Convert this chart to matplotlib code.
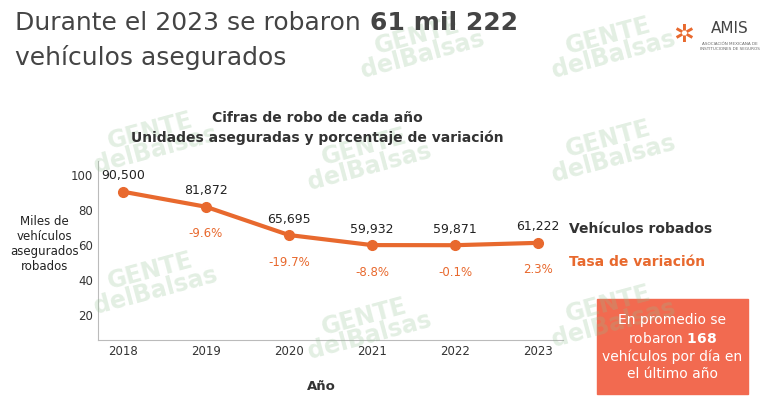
import matplotlib
matplotlib.use("Agg")
import matplotlib.pyplot as plt
from matplotlib.patches import Rectangle

years = [2018, 2019, 2020, 2021, 2022, 2023]
robados = [90.5, 81.872, 65.695, 59.932, 59.871, 61.222]
labels = ["90,500", "81,872", "65,695", "59,932", "59,871", "61,222"]
tasas = ["", "-9.6%", "-19.7%", "-8.8%", "-0.1%", "2.3%"]
yticks = [20, 40, 60, 80, 100]

orange = "#E8692E"
fig = plt.figure(figsize=(7.64, 4.13), dpi=100)
fig.patch.set_facecolor("white")

# watermarks
for (x, y) in [(0.20, 0.66), (0.48, 0.62), (0.80, 0.64), (0.20, 0.32), (0.48, 0.21), (0.80, 0.24), (0.55, 0.89), (0.80, 0.89)]:
    fig.text(x, y, "GENTE\ndelBalsas", color="#8fbf8f", alpha=0.25, fontsize=17,
             fontweight="bold", rotation=15, ha="center", va="center", linespacing=0.8)

ax = fig.add_axes([0.128, 0.177, 0.609, 0.433])
ax.plot(years, robados, color=orange, lw=3, marker="o", ms=7, zorder=3)
ax.set_xlim(2017.7, 2023.3)
ax.set_ylim(5.7, 108)
ax.set_yticks(yticks)
ax.set_xticks(years)
ax.tick_params(length=0, labelsize=8.5, colors="#333333")
for s in ["top", "right"]:
    ax.spines[s].set_visible(False)
ax.spines["left"].set_color("#bbbbbb")
ax.spines["bottom"].set_color("#bbbbbb")
ax.set_facecolor("none")
for x, y, l, t in zip(years, robados, labels, tasas):
    ax.annotate(l, (x, y), xytext=(0, 9), textcoords="offset points", ha="center", fontsize=9, color="#222222")
    if t:
        ax.annotate(t, (x, y), xytext=(0, -22), textcoords="offset points", ha="center", fontsize=8.5, color=orange)

fig.text(0.02, 0.945, "Durante el 2023 se robaron", fontsize=18, color="#444444", va="center")
fig.text(0.484, 0.945, "61 mil 222", fontsize=18, color="#444444", fontweight="bold", va="center")
fig.text(0.02, 0.86, "vehículos asegurados", fontsize=18, color="#444444", va="center")
fig.text(0.415, 0.705, "Cifras de robo de cada año", fontsize=10, fontweight="bold", color="#333333", ha="center")
fig.text(0.415, 0.655, "Unidades aseguradas y porcentaje de variación", fontsize=10, fontweight="bold", color="#333333", ha="center")
fig.text(0.058, 0.41, "Miles de\nvehículos\nasegurados\nrobados", fontsize=8.5, ha="center", va="center", color="#222222")
fig.text(0.42, 0.055, "Año", fontsize=9.5, fontweight="bold", ha="center", color="#333333")
fig.text(0.745, 0.435, "Vehículos robados", fontsize=10, fontweight="bold", color="#333333")
fig.text(0.745, 0.355, "Tasa de variación", fontsize=10, fontweight="bold", color=orange)

fig.patches.append(Rectangle((0.782, 0.045), 0.197, 0.23, transform=fig.transFigure, color="#F26A50", zorder=2))
fig.text(0.88, 0.16, "En promedio se\nrobaron $\\bf{168}$\nvehículos por día en\nel último año", fontsize=10,
         color="white", ha="center", va="center", linespacing=1.3, zorder=3)

fig.text(0.955, 0.92, "AMIS", fontsize=11, color="#444444", ha="center")
fig.text(0.955, 0.88, "ASOCIACIÓN MEXICANA DE\nINSTITUCIONES DE SEGUROS", fontsize=3, color="#666666", ha="center")
fig.text(0.895, 0.915, "✲", fontsize=18, color=orange, ha="center", va="center")

fig.savefig("out.png", dpi=100)
